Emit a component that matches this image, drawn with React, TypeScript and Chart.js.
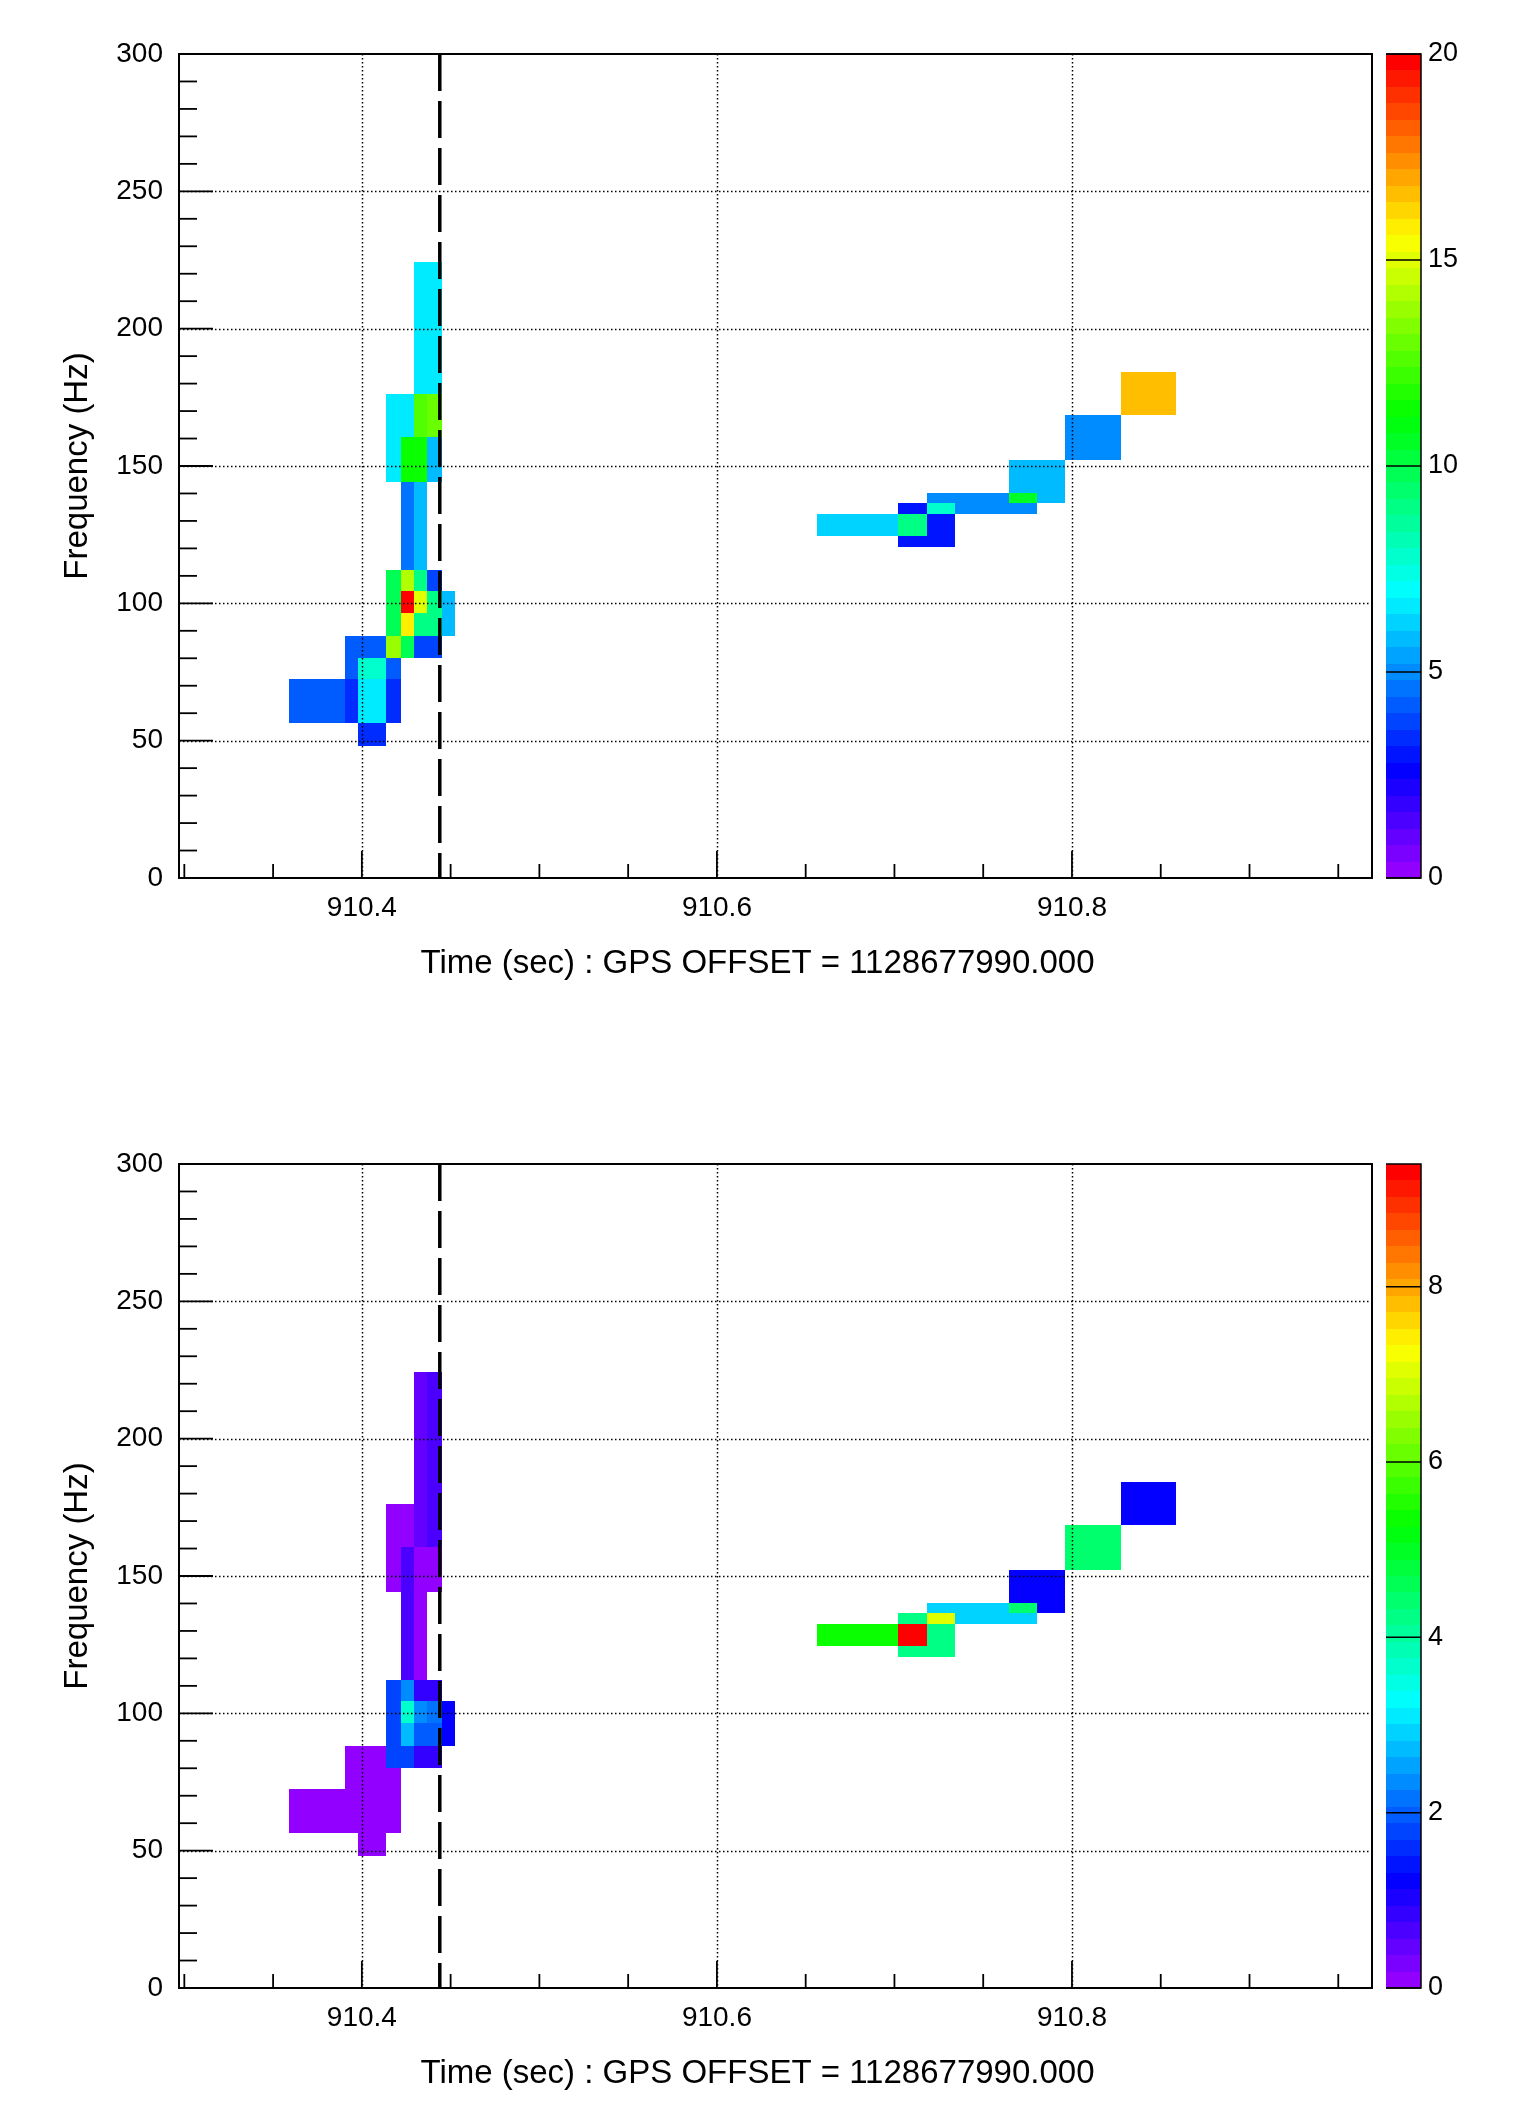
import React, { useEffect, useRef } from "react";
import { Chart, registerables } from "chart.js";

Chart.register(...registerables);

const FONT = "'Liberation Sans', Arial, Helvetica, sans-serif";

// ---- axes ----
const timeRange = [910.297, 910.969];
const freqRange = [0, 300];
const eventTime = 910.4439;
const xAxisTitle = "Time (sec) : GPS OFFSET = 1128677990.000";
const yAxisTitle = "Frequency (Hz)";
const xMajorTicks = [910.4, 910.6, 910.8];
const xMinorTicks = [910.3, 910.35, 910.45, 910.5, 910.55, 910.65, 910.7, 910.75, 910.85, 910.9, 910.95];
const yMajorTicks = [0, 50, 100, 150, 200, 250, 300];
const yMinorTicks = [10, 20, 30, 40, 60, 70, 80, 90, 110, 120, 130, 140, 160, 170, 180, 190, 210, 220, 230, 240, 260, 270, 280, 290];

// ---- colour scales ----
const topColorMax = 20;
const topColorTicks = [0, 5, 10, 15, 20];
const bottomColorMax = 9.4;
const bottomColorTicks = [0, 2, 4, 6, 8];

// ---- tiles (time start/end, frequency low/high, value in top map, value in bottom map) ----
const tileStart = [
  910.4293, 910.4367, 910.4293, 910.4367, 910.4135, 910.4220, 910.4220, 910.4293, 910.4367, 910.4220,
  910.4293, 910.4135, 910.4220, 910.4293, 910.4367, 910.4220, 910.4293, 910.4367, 910.4220, 910.4293,
  910.4450, 910.4135, 910.4220, 910.4293, 910.3903, 910.3903, 910.3978, 910.4135, 910.3588, 910.3903,
  910.3978, 910.4135, 910.3978,
  910.7022, 910.6561, 910.7022, 910.7645, 910.7182, 910.7182, 910.7645, 910.7961, 910.8277,
];
const tileEnd = [
  910.4367, 910.4450, 910.4367, 910.4450, 910.4220, 910.4293, 910.4293, 910.4367, 910.4450, 910.4293,
  910.4367, 910.4220, 910.4293, 910.4367, 910.4450, 910.4293, 910.4367, 910.4450, 910.4293, 910.4450,
  910.4522, 910.4220, 910.4293, 910.4450, 910.4135, 910.3978, 910.4135, 910.4220, 910.3903, 910.3978,
  910.4135, 910.4220, 910.4135,
  910.7340, 910.7022, 910.7182, 910.7961, 910.7801, 910.7340, 910.7801, 910.8277, 910.8584,
];
const tileLow = [
  176.1, 176.1, 160.4, 160.4, 144.1, 160.4, 144.1, 144.1, 144.1, 112.1,
  112.1, 88.1, 104.5, 104.5, 104.5, 96.4, 96.4, 96.4, 88.1, 88.1,
  88.1, 80.0, 80.0, 80.0, 80.0, 72.3, 72.3, 72.3, 56.3, 56.3,
  56.3, 56.3, 48.1,
  120.4, 124.5, 124.5, 136.6, 132.5, 132.5, 136.6, 152.2, 168.6,
];
const tileHigh = [
  224.4, 224.4, 176.1, 176.1, 176.1, 176.1, 160.4, 160.4, 160.4, 144.1,
  144.1, 112.1, 112.1, 112.1, 112.1, 104.5, 104.5, 104.5, 96.4, 96.4,
  104.5, 88.1, 88.1, 88.1, 88.1, 80.0, 80.0, 80.0, 72.3, 72.3,
  72.3, 72.3, 56.3,
  136.6, 132.5, 132.5, 152.2, 140.1, 136.6, 140.1, 168.6, 184.2,
];
const topValues = [
  6.6, 6.6, 12.6, 13.0, 6.6, 6.6, 11.4, 11.4, 5.8, 4.6,
  5.8, 9.8, 14.2, 9.0, 3.8, 20.0, 15.0, 9.0, 15.8, 9.0,
  5.8, 13.8, 9.8, 3.8, 4.2, 4.2, 7.8, 4.3, 4.2, 3.4,
  6.6, 3.4, 3.4,
  3.0, 6.2, 9.0, 5.8, 5.0, 7.8, 10.6, 5.0, 16.6,
];
const bottomValues = [
  0.47, 0.66, 0.47, 0.66, 0.1, 0.1, 0.66, 0.1, 0.1, 0.66,
  0.1, 1.78, 2.35, 0.85, 0.85, 3.66, 2.3, 2.1, 2.7, 1.97,
  1.22, 1.78, 1.78, 0.85, 0.1, 0.1, 0.1, 0.1, 0.1, 0.1,
  0.1, 0.1, 0.1,
  4.2, 5.35, 9.3, 1.22, 2.9, 7.04, 4.5, 4.5, 1.22,
];

const PALETTE_SIZE = 50;
function paletteColor(v: number, vmax: number): string {
  let i = Math.floor((v / vmax) * PALETTE_SIZE);
  i = Math.max(0, Math.min(PALETTE_SIZE - 1, i));
  const hue = 280 - (i + 1) * (280 / PALETTE_SIZE);
  return `hsl(${hue}, 100%, 50%)`;
}

const rootPlotPlugin = {
  id: "rootPlot",
  beforeDatasetsDraw(chart: any) {
    const { ctx, chartArea: ca, scales } = chart;
    const xs = scales.x;
    const ys = scales.y;
    const cs = scales.c;
    const vmax: number = chart.options.plugins.rootPlot.vmax;
    const cticks: number[] = chart.options.plugins.rootPlot.cticks;

    ctx.save();
    ctx.beginPath();
    ctx.rect(ca.left, ca.top, ca.right - ca.left, ca.bottom - ca.top);
    ctx.clip();
    // tiles
    for (const d of chart.data.datasets[0].data) {
      const x0 = Math.round(xs.getPixelForValue(d.x));
      const x1 = Math.round(xs.getPixelForValue(d.x2));
      const y0 = Math.round(ys.getPixelForValue(d.y2));
      const y1 = Math.round(ys.getPixelForValue(d.y));
      ctx.fillStyle = paletteColor(d.v, vmax);
      ctx.fillRect(x0, y0, x1 - x0, y1 - y0);
    }
    // dotted grid
    ctx.strokeStyle = "#000";
    ctx.lineWidth = 1.5;
    ctx.setLineDash([1.5, 2.5]);
    for (const t of xMajorTicks) {
      const px = Math.round(xs.getPixelForValue(t)) + 0.5;
      ctx.beginPath();
      ctx.moveTo(px, ca.top);
      ctx.lineTo(px, ca.bottom);
      ctx.stroke();
    }
    for (const f of yMajorTicks) {
      if (f <= freqRange[0] || f >= freqRange[1]) continue;
      const py = Math.round(ys.getPixelForValue(f)) + 0.5;
      ctx.beginPath();
      ctx.moveTo(ca.left, py);
      ctx.lineTo(ca.right, py);
      ctx.stroke();
    }
    // event line
    ctx.setLineDash([37, 10]);
    ctx.lineWidth = 3.5;
    const ex = xs.getPixelForValue(eventTime);
    ctx.beginPath();
    ctx.moveTo(ex, ca.top);
    ctx.lineTo(ex, ca.bottom);
    ctx.stroke();
    ctx.restore();

    // ticks
    ctx.save();
    ctx.strokeStyle = "#000";
    ctx.lineWidth = 1.8;
    ctx.setLineDash([]);
    const yTick = (f: number, len: number) => {
      const py = ys.getPixelForValue(f);
      ctx.beginPath();
      ctx.moveTo(ca.left, py);
      ctx.lineTo(ca.left + len, py);
      ctx.stroke();
    };
    const xTick = (t: number, len: number) => {
      const px = xs.getPixelForValue(t);
      ctx.beginPath();
      ctx.moveTo(px, ca.bottom);
      ctx.lineTo(px, ca.bottom - len);
      ctx.stroke();
    };
    yMajorTicks.forEach((f) => yTick(f, 34));
    yMinorTicks.forEach((f) => yTick(f, 18));
    xMajorTicks.forEach((t) => xTick(t, 27));
    xMinorTicks.forEach((t) => xTick(t, 14));
    // frame
    ctx.lineWidth = 2;
    ctx.strokeRect(ca.left, ca.top, ca.right - ca.left, ca.bottom - ca.top);

    // colour bar
    const bx0 = Math.round(cs.left + 14);
    const bx1 = Math.round(cs.left + 49);
    for (let k = 0; k < PALETTE_SIZE; k++) {
      const lo = (k * vmax) / PALETTE_SIZE;
      const hi = ((k + 1) * vmax) / PALETTE_SIZE;
      const y0 = Math.round(cs.getPixelForValue(hi));
      const y1 = Math.round(cs.getPixelForValue(lo));
      ctx.fillStyle = paletteColor((lo + hi) / 2, vmax);
      ctx.fillRect(bx0, y0, bx1 - bx0, y1 - y0);
    }
    ctx.lineWidth = 1.5;
    for (const c of cticks) {
      const py = cs.getPixelForValue(c);
      ctx.beginPath();
      ctx.moveTo(bx0, py);
      ctx.lineTo(bx1, py);
      ctx.stroke();
    }
    const top = cs.getPixelForValue(vmax);
    const bottom = cs.getPixelForValue(0);
    ctx.beginPath();
    ctx.moveTo(bx0, top);
    ctx.lineTo(bx1, top);
    ctx.lineTo(bx1, bottom);
    ctx.lineTo(bx0, bottom);
    ctx.stroke();
    ctx.restore();
  },
};

type PlotProps = {
  values: number[];
  vmax: number;
  colorTicks: number[];
  height: number;
  titlePadBottom: number;
};

function Spectrogram({ values, vmax, colorTicks, height, titlePadBottom }: PlotProps) {
  const ref = useRef<HTMLCanvasElement>(null);
  useEffect(() => {
    if (!ref.current) return;
    const tiles = tileStart.map((t0, i) => ({
      x: t0,
      x2: tileEnd[i],
      y: tileLow[i],
      y2: tileHigh[i],
      v: values[i],
    }));
    const tickFont = { family: FONT, size: 28 };
    const chart = new Chart(ref.current, {
      type: "scatter",
      data: {
        datasets: [
          {
            data: tiles as any,
            xAxisID: "x",
            yAxisID: "y",
            pointRadius: 0,
            pointHoverRadius: 0,
            showLine: false,
          },
        ],
      },
      options: {
        responsive: false,
        animation: false,
        devicePixelRatio: 1,
        events: [],
        layout: { padding: { top: 54, left: 0, right: 0, bottom: 0 } },
        plugins: {
          legend: { display: false },
          tooltip: { enabled: false },
          title: {
            display: true,
            position: "bottom",
            text: xAxisTitle,
            color: "#000",
            font: { family: FONT, size: 33, weight: "normal" },
            padding: { top: 6.5, bottom: titlePadBottom },
          },
          rootPlot: { vmax, cticks: colorTicks },
        } as any,
        scales: {
          x: {
            type: "linear",
            position: "bottom",
            min: timeRange[0],
            max: timeRange[1],
            grid: { display: false, drawTicks: false },
            border: { display: false },
            afterBuildTicks: (s: any) => {
              s.ticks = xMajorTicks.map((v) => ({ value: v }));
            },
            afterFit: (s: any) => {
              s.height = 60;
              s.paddingLeft = 0;
              s.paddingRight = 0;
            },
            ticks: {
              autoSkip: false,
              maxRotation: 0,
              minRotation: 0,
              padding: 13,
              color: "#000",
              font: tickFont,
              callback: (v: any) => Number(v).toFixed(1),
            },
          },
          y: {
            type: "linear",
            position: "left",
            min: freqRange[0],
            max: freqRange[1],
            grid: { display: false, drawTicks: false },
            border: { display: false },
            afterBuildTicks: (s: any) => {
              s.ticks = yMajorTicks.map((v) => ({ value: v }));
            },
            afterFit: (s: any) => {
              s.width = 179;
              s.paddingTop = 0;
              s.paddingBottom = 0;
            },
            title: {
              display: true,
              text: yAxisTitle,
              color: "#000",
              font: { family: FONT, size: 33 },
              padding: { top: 58, bottom: 0 },
            },
            ticks: {
              autoSkip: false,
              padding: 16,
              color: "#000",
              font: tickFont,
              callback: (v: any) => String(v),
            },
          },
          c: {
            type: "linear",
            position: "right",
            min: 0,
            max: vmax,
            grid: { display: false, drawTicks: false },
            border: { display: false },
            afterBuildTicks: (s: any) => {
              s.ticks = colorTicks.map((v) => ({ value: v }));
            },
            afterFit: (s: any) => {
              s.width = 143;
              s.paddingTop = 0;
              s.paddingBottom = 0;
            },
            ticks: {
              autoSkip: false,
              padding: 56,
              color: "#000",
              font: { family: FONT, size: 27 },
              callback: (v: any) => String(v),
            },
          },
        } as any,
      },
      plugins: [rootPlotPlugin],
    });
    return () => chart.destroy();
  }, [values, vmax, colorTicks, height, titlePadBottom]);
  return <canvas ref={ref} width={1515} height={height} style={{ display: "block" }} />;
}

export default function App() {
  return (
    <div
      style={{
        position: "absolute",
        left: 0,
        top: 0,
        width: 1515,
        height: 2112,
        background: "#fff",
      }}
    >
      <Spectrogram values={topValues} vmax={topColorMax} colorTicks={topColorTicks} height={1110} titlePadBottom={125.9} />
      <Spectrogram values={bottomValues} vmax={bottomColorMax} colorTicks={bottomColorTicks} height={1002} titlePadBottom={17.9} />
    </div>
  );
}
